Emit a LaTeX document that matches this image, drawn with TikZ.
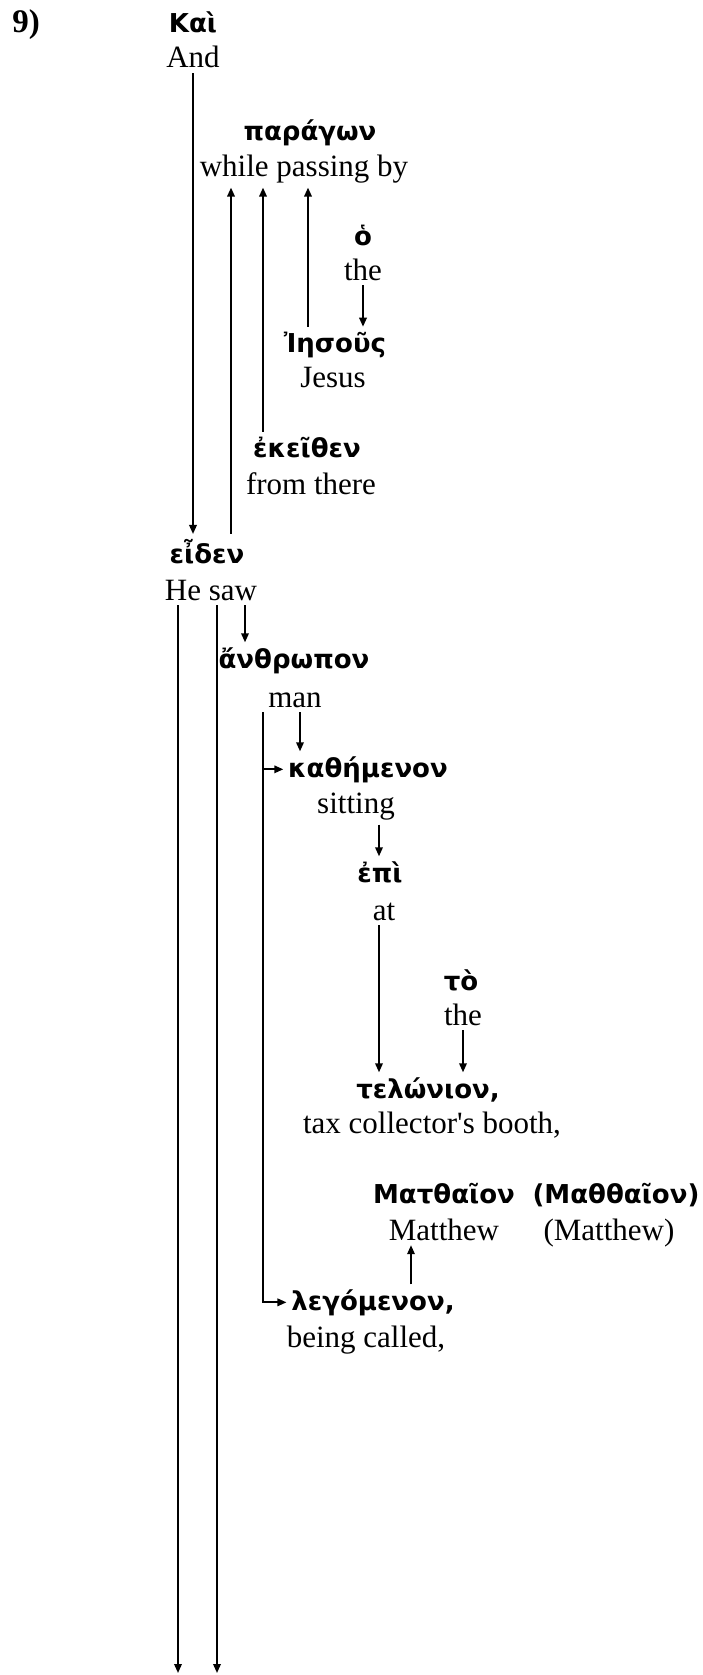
\documentclass[tikz,border=0pt]{standalone}
\usepackage{fontspec}
\setmainfont{Liberation Serif}[Ligatures=TeXOff]
\newfontfamily\greekfont{DejaVu Sans}
\usetikzlibrary{arrows.meta}

\begin{document}
\begin{tikzpicture}[x=1pt,y=1pt,yscale=-1,
  line width=1.8pt, >={Triangle[length=9pt,width=7.5pt]},
  gk/.style={anchor=base,inner sep=4pt,font=\greekfont\bfseries\fontsize{26}{30}\selectfont},
  en/.style={anchor=base,inner sep=4pt,font=\fontsize{31}{36}\selectfont}]
\useasboundingbox (0,0) rectangle (703,1675);
\coordinate (bottom) at (0,1673);

% Text Node
\node[anchor=base,font=\bfseries\fontsize{33}{38}\selectfont] (num) at (26,33) {9)};
% Text Node
\node[gk] (kai) at (193,33) {Καὶ};
\node[en] (and) at (193,68) {And};
% Text Node
\node[gk] (paragon) at (310,141) {παράγων};
\node[en] (passing) at (304,176) {while passing by};
% Text Node
\node[gk] (ho) at (363,245) {ὁ};
\node[en] (theA) at (363,280) {the};
% Text Node
\node[gk] (iesous) at (335,352) {Ἰησοῦς};
\node[en] (jesus) at (333,387) {Jesus};
% Text Node
\node[gk] (ekeithen) at (307,457) {ἐκεῖθεν};
\node[en] (fromthere) at (311,494) {from there};
% Text Node
\node[gk] (eiden) at (207,563) {εἶδεν};
\node[en] (hesaw) at (211,600) {He saw};
% Text Node
\node[gk] (anthropon) at (294,668) {ἄνθρωπον};
\node[en] (man) at (295,707) {man};
% Text Node
\node[gk] (kathemenon) at (368,777) {καθήμενον};
\node[en] (sitting) at (356,813) {sitting};
% Text Node
\node[gk] (epi) at (380,882) {ἐπὶ};
\node[en] (at) at (384,920) {at};
% Text Node
\node[gk] (to) at (461,990) {τὸ};
\node[en] (theB) at (463,1025) {the};
% Text Node
\node[gk] (telonion) at (428,1098) {τελώνιον,};
\node[en] (booth) at (432,1133) {tax collector's booth,};
% Text Node
\node[gk] (matthaion) at (444,1203) {Ματθαῖον};
\node[gk] (maththaion) at (616,1203) {(Μαθθαῖον)};
\node[en] (matthew) at (444,1240) {Matthew};
\node[en] (matthewB) at (609,1240) {(Matthew)};
% Text Node
\node[gk] (legomenon) at (373,1310) {λεγόμενον,};
\node[en] (called) at (366,1347) {being called,};

%Straight Lines
\draw[->] (and.south) -- (and.south |- eiden.north);
\draw[->] ([xshift=24pt]eiden.north) -- ([xshift=24pt]eiden.north |- passing.south);
\draw[->] ([xshift=-44pt]ekeithen.north) -- ([xshift=-44pt]ekeithen.north |- passing.south);
\draw[->] ([xshift=-27pt]iesous.north) -- ([xshift=-27pt]iesous.north |- passing.south);
\draw[->] (theA.south) -- (theA.south |- iesous.north);

%Straight Lines
\draw[->] ([xshift=-33pt]hesaw.south) -- ([xshift=-33pt]hesaw.south |- bottom);
\draw[->] ([xshift=6pt]hesaw.south) -- ([xshift=6pt]hesaw.south |- bottom);
\draw[->] ([xshift=34pt]hesaw.south) -- ([xshift=34pt]hesaw.south |- anthropon.north);

%Straight Lines
\draw[->] ([xshift=5pt]man.south) -- ([xshift=5pt]man.south |- kathemenon.north);
\draw[->] ([xshift=-32pt]man.south) |- (legomenon.west);
\draw[->] ([xshift=-32pt]man.south |- kathemenon.west) -- (kathemenon.west);
\draw[->] ([xshift=23pt]sitting.south) -- ([xshift=23pt]sitting.south |- epi.north);
\draw[->] ([xshift=-5pt]at.south) -- ([xshift=-5pt]at.south |- telonion.north);
\draw[->] (theB.south) -- (theB.south |- telonion.north);
\draw[->] ([xshift=38pt]legomenon.north) -- ([xshift=38pt]legomenon.north |- matthew.south);

\end{tikzpicture}
\end{document}
